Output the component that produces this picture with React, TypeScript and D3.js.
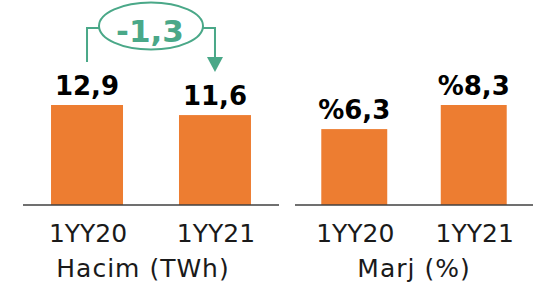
import * as d3 from "d3";

const hacimCats = ["1YY20", "1YY21"];
const hacimValues = [12.9, 11.6];
const hacimLabels = ["12,9", "11,6"];
const marjCats = ["1YY20", "1YY21"];
const marjValues = [6.3, 8.3];
const marjLabels = ["%6,3", "%8,3"];
const changeLabel = "-1,3";
const panelTitles = ["Hacim (TWh)", "Marj (%)"];

const W = 539;
const H = 291;
const base = 205;
const orange = "#ED7D31";
const green = "#4AA888";
const font = "DejaVu Sans, Verdana, sans-serif";

export default function App() {
  const xL = d3.scaleBand().domain(hacimCats).range([23, 279]).paddingInner(0.4375).paddingOuter(0.219);
  const xR = d3.scaleBand().domain(marjCats).range([295, 533]).paddingInner(0.448).paddingOuter(0.22);
  const yL = d3.scaleLinear().domain([0, d3.max(hacimValues)!]).range([base, 105]);
  const yR = d3.scaleLinear().domain([0, d3.max(marjValues)!]).range([base, 105]);

  const panels = [
    { x: xL, y: yL, cats: hacimCats, vals: hacimValues, labels: hacimLabels, title: panelTitles[0], titleX: 143 },
    { x: xR, y: yR, cats: marjCats, vals: marjValues, labels: marjLabels, title: panelTitles[1], titleX: 414 },
  ];

  // change annotation between the two volume bars
  const ax1 = xL(hacimCats[0])! + xL.bandwidth() / 2;
  const ax2 = xL(hacimCats[1])! + xL.bandwidth() / 2;
  const amid = (ax1 + ax2) / 2;
  const lineY = 28;

  return (
    <svg width={W} height={H} style={{ position: "absolute", left: 0, top: 0 }} fontFamily={font}>
      {panels.map((p, i) => (
        <g key={i}>
          {p.cats.map((c, j) => (
            <g key={c}>
              <rect x={p.x(c)} y={p.y(p.vals[j])} width={p.x.bandwidth()} height={base - p.y(p.vals[j])} fill={orange} />
              <text
                x={p.x(c)! + p.x.bandwidth() / 2}
                y={p.y(p.vals[j]) - 10}
                textAnchor="middle"
                fontSize={26}
                fontWeight="bold"
                fill="#000"
              >
                {p.labels[j]}
              </text>
              <text x={p.x(c)! + p.x.bandwidth() / 2 + 1} y={242} textAnchor="middle" fontSize={25} fill="#1a1a1a">
                {c}
              </text>
            </g>
          ))}
          <line x1={p.x.range()[0]} x2={p.x.range()[1]} y1={base} y2={base} stroke="#404040" strokeWidth={1.6} />
          <text x={p.titleX} y={277} textAnchor="middle" fontSize={25} letterSpacing={1} fill="#1a1a1a">
            {p.title}
          </text>
        </g>
      ))}
      <g fill="none" stroke={green} strokeWidth={2}>
        <path d={`M${ax1},62V${lineY}H${amid - 51}`} />
        <path d={`M${amid + 51},${lineY}H${ax2}V60`} />
        <ellipse cx={amid} cy={26} rx={52} ry={23.5} />
      </g>
      <path d={`M${ax2 - 8},57L${ax2 + 8},57L${ax2},72Z`} fill={green} />
      <text x={amid - 1} y={42} textAnchor="middle" fontSize={31} fontWeight="bold" fill={green}>
        {changeLabel}
      </text>
    </svg>
  );
}
